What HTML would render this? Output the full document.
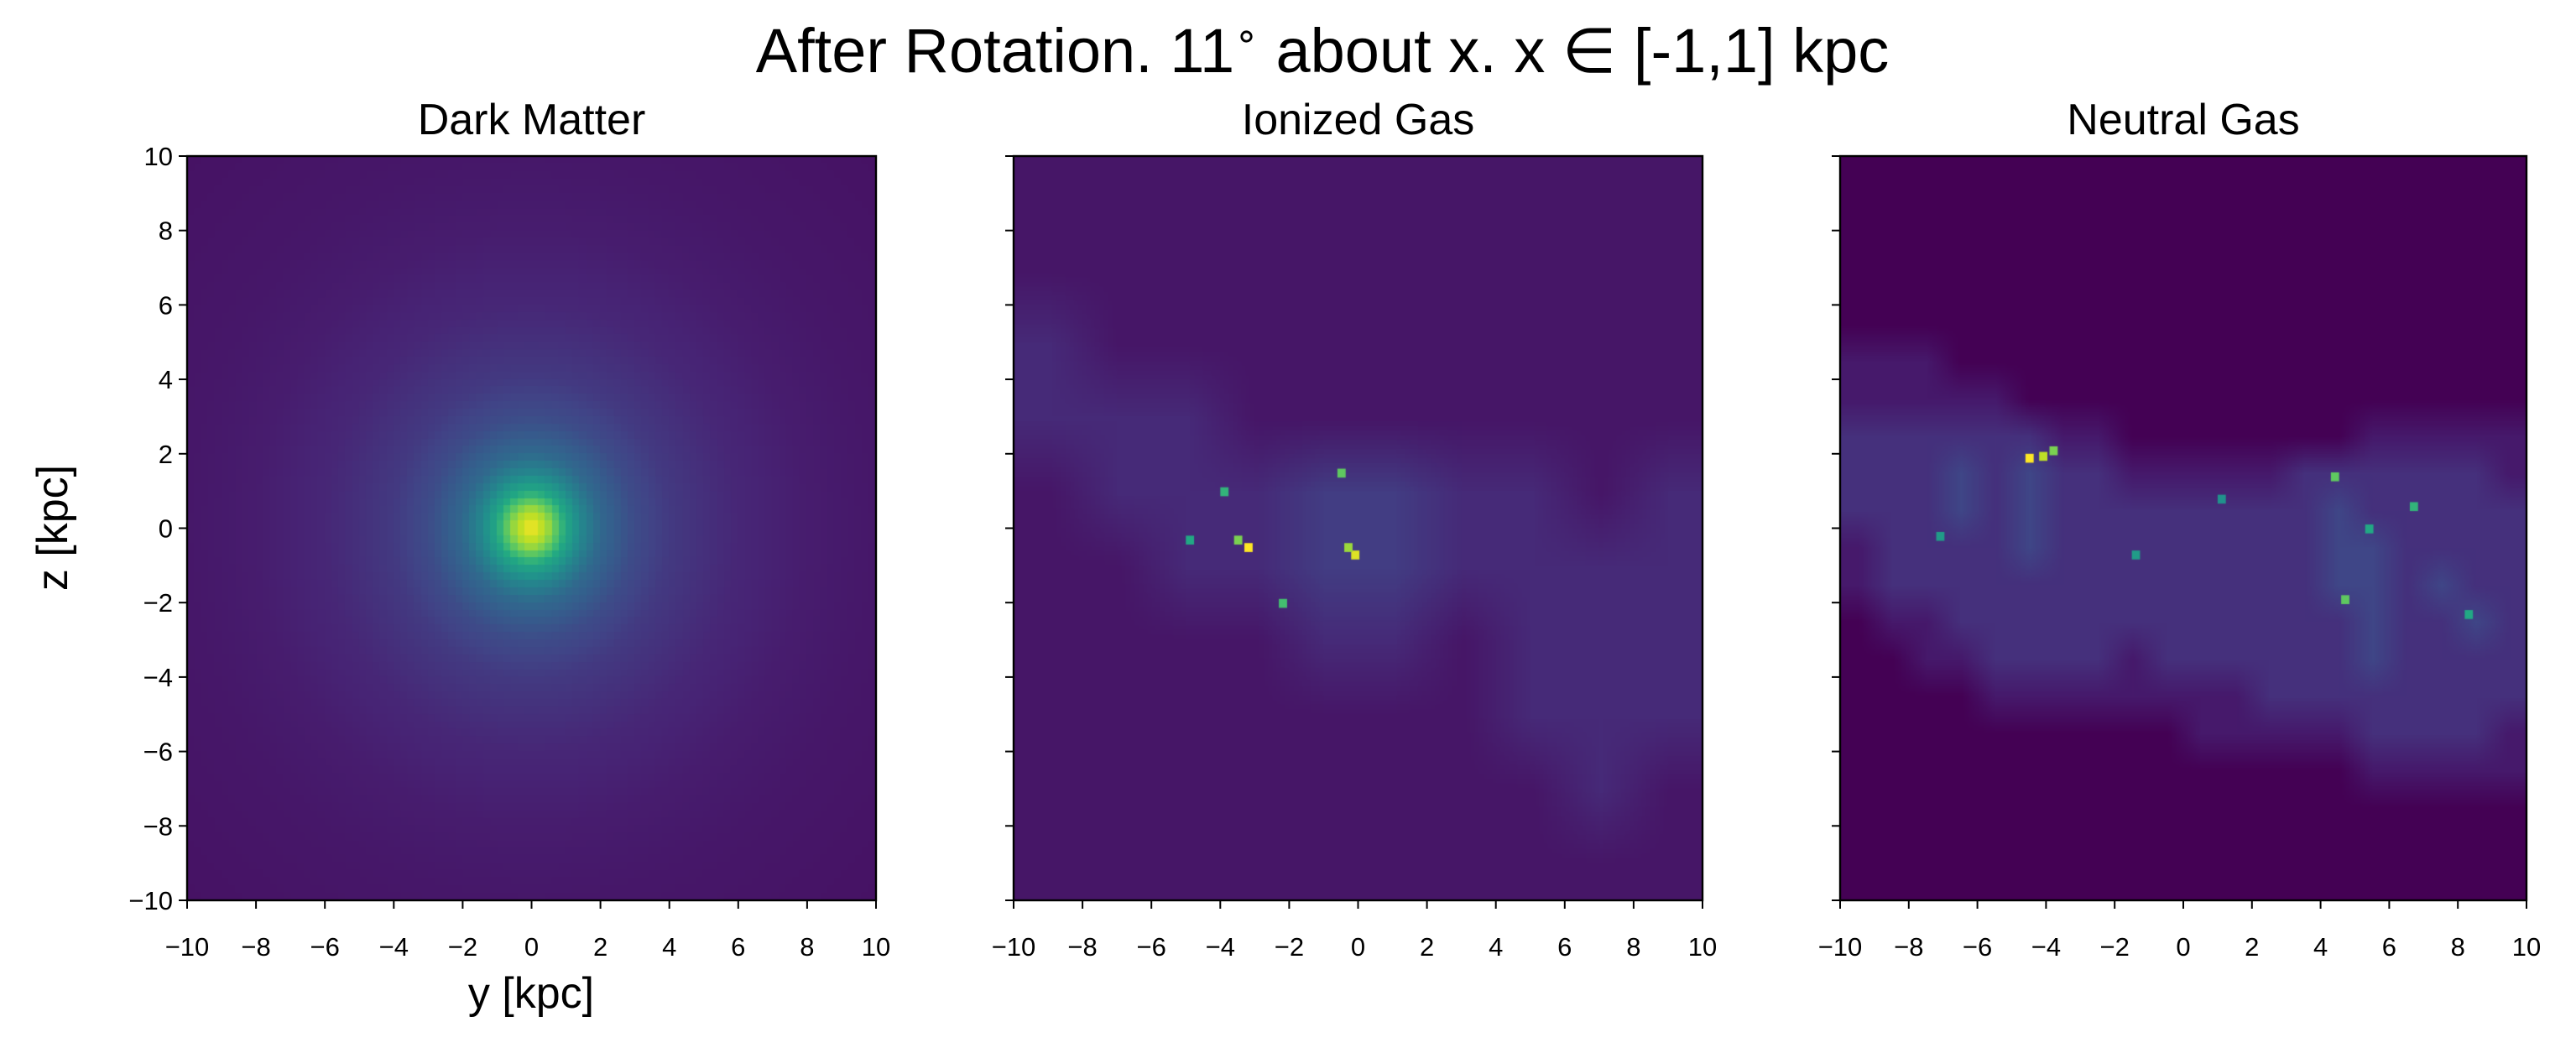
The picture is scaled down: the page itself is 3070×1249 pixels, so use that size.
<!DOCTYPE html>
<html><head><meta charset="utf-8"><style>
body{margin:0;background:#fff;width:3070px;height:1249px;position:relative;overflow:hidden;font-family:"Liberation Sans","DejaVu Sans",sans-serif}
canvas{position:absolute}
svg{position:absolute;left:0;top:0}
</style></head><body>
<canvas id="c0"></canvas>
<canvas id="c1"></canvas>
<canvas id="c2"></canvas>
<svg id="s" width="3070" height="1249"></svg>
<script>
// ---- data ----
const ticks=[-10,-8,-6,-4,-2,0,2,4,6,8,10];
const tickLabels=["−10","−8","−6","−4","−2","0","2","4","6","8","10"];
const titles=["Dark Matter","Ionized Gas","Neutral Gas"];
// dark matter radial profile: radius (kpc) -> normalized density
const dmRadius=[0,0.5,1,1.5,2,3,4,6,8,10,14.2];
const dmValue=[1.0,0.85,0.6,0.45,0.34,0.23,0.17,0.11,0.08,0.065,0.05];
// ionized gas 10x10 grid (2 kpc cells), rows z top->bottom, value = digit*0.07
const ionRows=["1111111111","1111111111","2111111111","2221111111","1222332212","1122332222","1111221222","1111111222","1111111121","1111111111"];
// ionized hotspots [y,z,v]
const ionSpots=[[-3.3,-0.4,1.0],[-3.6,-0.2,0.8],[-0.2,-0.6,0.95],[-0.4,-0.4,0.85],[-0.6,1.6,0.75],[-2.3,-1.9,0.7],[-4,1.1,0.65],[-5,-0.2,0.6]];
// neutral gas 20x20 grid (1 kpc cells), rows z top->bottom, value = digit*0.07
const neuRows=["00000000000000000000","00000000000000000000","00000000000000000000","00000000000000000000","00000000000000000000",
"11100000000000000000","11111000000000000000","22222211000000011111","22232322111112222221","22232322222222322222",
"12222322222222332222","12222222222222332322","01122222222222232232","00112222122222232222","00001111111122222222",
"00000000001111122221","00000000000000011111","00000000000000000000","00000000000000000000","00000000000000000000"];
const neuSpots=[[-4.6,2.0,1.0],[-4.2,2.05,0.9],[-3.9,2.2,0.8],[4.3,1.5,0.75],[4.6,-1.8,0.75],[5.3,0.1,0.6],[6.6,0.7,0.65],[-7.2,-0.1,0.55],[-1.5,-0.6,0.55],[8.2,-2.2,0.6],[1.0,0.9,0.5]];

// ---- layout ----
const P=[{x:223,w:821},{x:1208,w:821},{x:2193,w:818}];
const T=186,H=887;
function sx(i,v){return P[i].x+(v+10)/20*P[i].w}
function sy(v){return T+(10-v)/20*H}
const vir=[[68,1,84],[72,36,117],[65,68,135],[53,95,141],[42,120,142],[33,145,140],[34,168,132],[68,191,112],[122,209,81],[189,223,38],[253,231,37]];
function cmap(t){t=Math.max(0,Math.min(1,t))*10;const i=Math.min(9,Math.floor(t)),f=t-i;const a=vir[i],b=vir[i+1];return [a[0]+(b[0]-a[0])*f,a[1]+(b[1]-a[1])*f,a[2]+(b[2]-a[2])*f]}
function setup(id,i){const c=document.getElementById(id);c.width=P[i].w;c.height=H;c.style.left=P[i].x+'px';c.style.top=T+'px';return c.getContext('2d')}
// dark matter
(function(){const ctx=setup('c0',0);const N=100;const cw=P[0].w/N,ch=H/N;
function prof(r){for(let k=0;k<dmRadius.length-1;k++){if(r<=dmRadius[k+1]){const f=(r-dmRadius[k])/(dmRadius[k+1]-dmRadius[k]);return dmValue[k]+(dmValue[k+1]-dmValue[k])*f}}return dmValue[dmValue.length-1]}
for(let j=0;j<N;j++)for(let i=0;i<N;i++){const y=-10+(i+.5)*.2,z=10-(j+.5)*.2;const c=cmap(prof(Math.hypot(y,z)));ctx.fillStyle=`rgb(${c[0]|0},${c[1]|0},${c[2]|0})`;ctx.fillRect(Math.floor(i*cw),Math.floor(j*ch),Math.ceil(cw)+1,Math.ceil(ch)+1)}})();
function gridPanel(id,i,rows,spots,scale){const ctx=setup(id,i);const R=rows.length,C=rows[0].length;const off=document.createElement('canvas');off.width=C;off.height=R;const o=off.getContext('2d');
for(let r=0;r<R;r++)for(let k=0;k<C;k++){const c=cmap(+rows[r][k]*scale);o.fillStyle=`rgb(${c[0]|0},${c[1]|0},${c[2]|0})`;o.fillRect(k,r,1,1)}
ctx.imageSmoothingEnabled=true;ctx.drawImage(off,0,0,P[i].w,H);
const cs=P[i].w/100;spots.forEach(s=>{const c=cmap(s[2]);ctx.fillStyle=`rgb(${c[0]|0},${c[1]|0},${c[2]|0})`;ctx.fillRect(sx(i,s[0])-P[i].x,sy(s[1])-T,cs*1.2,H/100*1.2)})}
gridPanel('c1',1,ionRows,ionSpots,0.06);
gridPanel('c2',2,neuRows,neuSpots,0.07);

// ---- axes ----
const s=document.getElementById('s');const NS='http://www.w3.org/2000/svg';
function el(tag,at,txt){const e=document.createElementNS(NS,tag);for(const k in at)e.setAttribute(k,at[k]);if(txt!==undefined)e.textContent=txt;s.appendChild(e);return e}
let t=el('text',{x:1576,y:86,'font-size':74,'text-anchor':'middle'});


t.innerHTML='After Rotation. 11<tspan font-size="46" dy="-28">∘</tspan><tspan dy="28"> about x. x ∈ [-1,1] kpc</tspan>';
P.forEach((p,i)=>{
 const f=el('rect',{x:p.x,y:T,width:p.w,height:H,fill:'none',stroke:'#000','stroke-width':2.4});
 
 
 const tt=el('text',{x:p.x+p.w/2,y:160,'font-size':52,'text-anchor':'middle'},titles[i]);
 
 
 ticks.forEach((v,k)=>{
  el('line',{x1:sx(i,v),x2:sx(i,v),y1:T+H,y2:T+H+10,stroke:'#000','stroke-width':2});
  const xl=el('text',{x:sx(i,v),y:1139,'font-size':31,'text-anchor':'middle'},tickLabels[k]);
  
  
  el('line',{x1:p.x-10,x2:p.x,y1:sy(v),y2:sy(v),stroke:'#000','stroke-width':2});
  if(i===0){const yl=el('text',{x:p.x-17,y:sy(v)+11,'font-size':31,'text-anchor':'end'},tickLabels[k]);
   
   }
 });
});
t=el('text',{x:633,y:1201,'font-size':52,'text-anchor':'middle'},'y [kpc]');


t=el('text',{x:80,y:629,'font-size':52,'text-anchor':'middle',transform:'rotate(-90 80 629)'},'z [kpc]');


</script>
</body></html>
